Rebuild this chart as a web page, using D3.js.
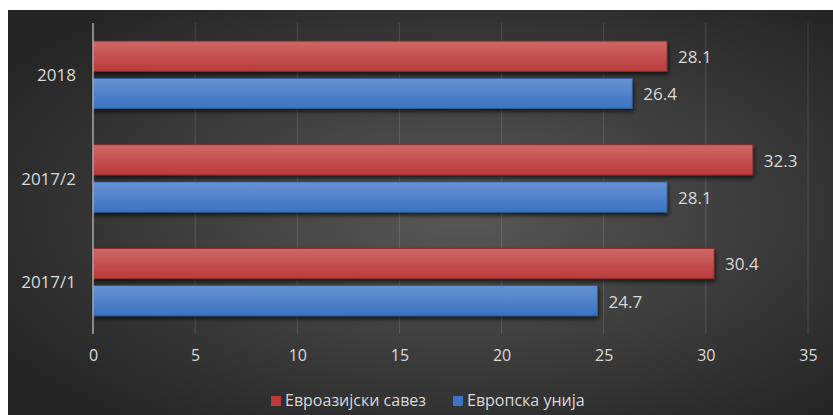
<html>
<head>
<meta charset="utf-8">
<script src="https://cdn.jsdelivr.net/npm/d3@7"></script>
<style>
  body { margin: 0; background: #fff; }
  text { font-family: "Open Sans", sans-serif; fill: #d9d9d9; }
</style>
</head>
<body>
<svg width="833" height="415"></svg>

<script>
  var categories = ['2018', '2017/2', '2017/1'];
  var series = ['Евроазијски савез', 'Европска унија'];
  var eurasian = [28.1, 32.3, 30.4];
  var europe = [26.4, 28.1, 24.7];
  var ticks = [0, 5, 10, 15, 20, 25, 30, 35];
  var colors = { 'Евроазијски савез': ['#d06868', '#b93a3a', '#8d2b2b'],
                 'Европска унија': ['#6892d2', '#3b72c1', '#2c5a9c'] };

  var data = categories.map(function(c, i) {
    return { cat: c, vals: [ { s: series[0], v: eurasian[i] }, { s: series[1], v: europe[i] } ] };
  });

  var svg = d3.select('svg');
  var defs = svg.append('defs');

  // background
  var bg = defs.append('radialGradient').attr('id', 'bg')
      .attr('cx', '0.55').attr('cy', '0.5').attr('r', '0.65');
  bg.append('stop').attr('offset', '0').attr('stop-color', '#585858');
  bg.append('stop').attr('offset', '1').attr('stop-color', '#252525');
  svg.append('rect').attr('x', 8).attr('y', 10).attr('width', 825).attr('height', 405)
      .attr('fill', 'url(#bg)');

  series.forEach(function(s, i) {
    var g = defs.append('linearGradient').attr('id', 'g' + i)
        .attr('x1', 0).attr('y1', 0).attr('x2', 0).attr('y2', 1);
    g.append('stop').attr('offset', '0').attr('stop-color', colors[s][0]);
    g.append('stop').attr('offset', '1').attr('stop-color', colors[s][1]);
  });

  var f = defs.append('filter').attr('id', 'shadow')
      .attr('x', '-5%').attr('y', '-20%').attr('width', '110%').attr('height', '150%');
  f.append('feDropShadow').attr('dx', 1).attr('dy', 3).attr('stdDeviation', 2)
      .attr('flood-color', '#000').attr('flood-opacity', 0.65);

  var x = d3.scaleLinear().domain([0, 35]).range([93, 808]);
  var y0 = d3.scaleBand().domain(categories).range([23, 334])
      .paddingInner(0.35).paddingOuter(0.175);
  var y1 = d3.scaleBand().domain(series).range([0, y0.bandwidth()]).paddingInner(0.188);

  // gridlines
  svg.append('g').selectAll('line')
    .data(ticks.slice(1))
    .enter()
    .append('line')
    .attr('x1', function(d) { return x(d); })
    .attr('x2', function(d) { return x(d); })
    .attr('y1', 23).attr('y2', 334)
    .attr('stroke', '#ffffff').attr('stroke-opacity', 0.13).attr('stroke-width', 1);

  // bars
  var group = svg.append('g').selectAll('g')
    .data(data)
    .enter()
    .append('g')
    .attr('transform', function(d) { return 'translate(0,' + y0(d.cat) + ')'; });

  group.selectAll('rect')
    .data(function(d) { return d.vals; })
    .enter()
    .append('rect')
    .attr('x', x(0))
    .attr('y', function(d) { return y1(d.s); })
    .attr('width', function(d) { return x(d.v) - x(0); })
    .attr('height', y1.bandwidth())
    .attr('fill', function(d) { return 'url(#g' + series.indexOf(d.s) + ')'; })
    .attr('stroke', function(d) { return colors[d.s][2]; })
    .attr('stroke-width', 0.8)
    .attr('filter', 'url(#shadow)');

  group.selectAll('text')
    .data(function(d) { return d.vals; })
    .enter()
    .append('text')
    .attr('x', function(d) { return x(d.v) + 11; })
    .attr('y', function(d) { return y1(d.s) + y1.bandwidth() / 2; })
    .attr('dy', '0.4em')
    .style('font-size', '17px')
    .text(function(d) { return d.v.toFixed(1); });

  // y axis
  svg.append('line')
    .attr('x1', x(0)).attr('x2', x(0)).attr('y1', 23).attr('y2', 334)
    .attr('stroke', '#a8a8a8').attr('stroke-width', 1.5);

  svg.append('g').selectAll('text')
    .data(categories)
    .enter()
    .append('text')
    .attr('x', 76)
    .attr('y', function(d) { return y0(d) + y0.bandwidth() / 2; })
    .attr('dy', '0.37em')
    .attr('text-anchor', 'end')
    .style('font-size', '17px')
    .text(function(d) { return d; });

  // x axis labels
  var xAxis = svg.append('g').attr('transform', 'translate(0,336)')
    .call(d3.axisBottom(x).tickValues(ticks).tickSize(0).tickPadding(14));
  xAxis.select('.domain').remove();
  xAxis.selectAll('text')
    .attr('fill', '#d9d9d9')
    .style('font-family', '"Open Sans", sans-serif')
    .style('font-size', '16px');

  // legend
  var legendX = [271, 453];
  var leg = svg.append('g').selectAll('g')
    .data(series)
    .enter()
    .append('g')
    .attr('transform', function(d, i) { return 'translate(' + legendX[i] + ',396)'; });
  leg.append('rect')
    .attr('width', 10).attr('height', 10)
    .attr('fill', function(d) { return colors[d][1]; });
  leg.append('text')
    .attr('x', 14).attr('y', 10)
    .style('font-size', '16px')
    .text(function(d) { return d; });
</script>
</body>
</html>
